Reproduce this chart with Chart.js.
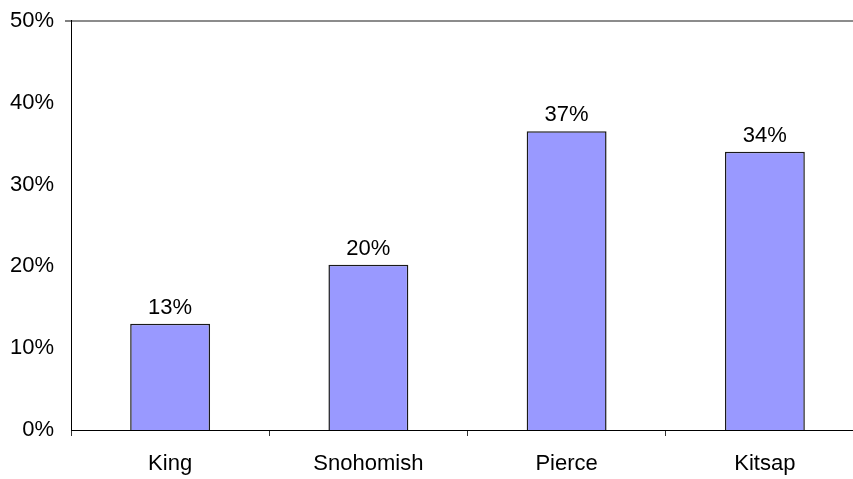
<!DOCTYPE html>
<html><head><meta charset="utf-8">
<style>
html,body{margin:0;padding:0;overflow:hidden;background:#fff;width:853px;height:479px}
#wrap{width:864px;height:479px;position:relative}
canvas{display:block}
</style>
<script src="https://cdn.jsdelivr.net/npm/chart.js@4"></script>
</head><body><div id="wrap"><canvas id="c" width="864" height="479" style="width:864px;height:479px"></canvas></div>
<script>
const categories = ['King', 'Snohomish', 'Pierce', 'Kitsap'];
const values = [13.0, 20.2, 36.5, 34.0];
const yTickValues = [0, 10, 20, 30, 40, 50];

const FONT = "'Liberation Sans', Arial, sans-serif";

const valueLabels = {
  id: 'valueLabels',
  afterDatasetsDraw(chart) {
    const ctx = chart.ctx;
    const meta = chart.getDatasetMeta(0);
    ctx.save();
    ctx.font = '22px ' + FONT;
    ctx.fillStyle = '#000';
    ctx.textAlign = 'center';
    ctx.textBaseline = 'alphabetic';
    meta.data.forEach((bar, i) => {
      ctx.fillText(Math.round(values[i]) + '%', bar.x, bar.y - 10);
    });
    ctx.restore();
  }
};

new Chart(document.getElementById('c'), {
  type: 'bar',
  data: {
    labels: categories,
    datasets: [{
      data: values,
      backgroundColor: '#9999FF',
      borderColor: '#1a1a1a',
      borderWidth: 1.5,
      barPercentage: 0.403,
      categoryPercentage: 1.0
    }]
  },
  options: {
    responsive: false,
    animation: false,
    devicePixelRatio: 1,
    layout: { padding: { top: 19, left: 0, right: 0, bottom: 0 } },
    plugins: { legend: { display: false }, tooltip: { enabled: false } },
    scales: {
      x: {
        offset: true,
        grid: {
          offset: true,
          drawOnChartArea: false,
          drawTicks: true,
          tickLength: 6,
          tickColor: '#333'
        },
        border: { color: '#000', width: 1 },
        ticks: {
          color: '#000',
          font: { family: FONT, size: 22 },
          padding: 15,
          maxRotation: 0
        },
        afterFit(scale) { scale.height = 49; }
      },
      y: {
        min: 0,
        max: 50,
        afterBuildTicks(scale) { scale.ticks = yTickValues.map(v => ({ value: v })); },
        grid: {
          color: (c) => (c.tick && c.tick.value === 50) ? '#8c8c8c' : 'rgba(0,0,0,0)',
          lineWidth: (c) => (c.tick && c.tick.value === 50) ? 2 : 0,
          tickColor: '#808080',
          tickLength: 6,
          drawTicks: true
        },
        border: { color: '#000', width: 1 },
        ticks: {
          color: '#000',
          font: { family: FONT, size: 22, lineHeight: 0.9 },
          padding: 11,
          callback: (v) => v + '%'
        },
        afterFit(scale) { scale.width = 71; }
      }
    }
  },
  plugins: [valueLabels]
});
</script>
</body></html>
